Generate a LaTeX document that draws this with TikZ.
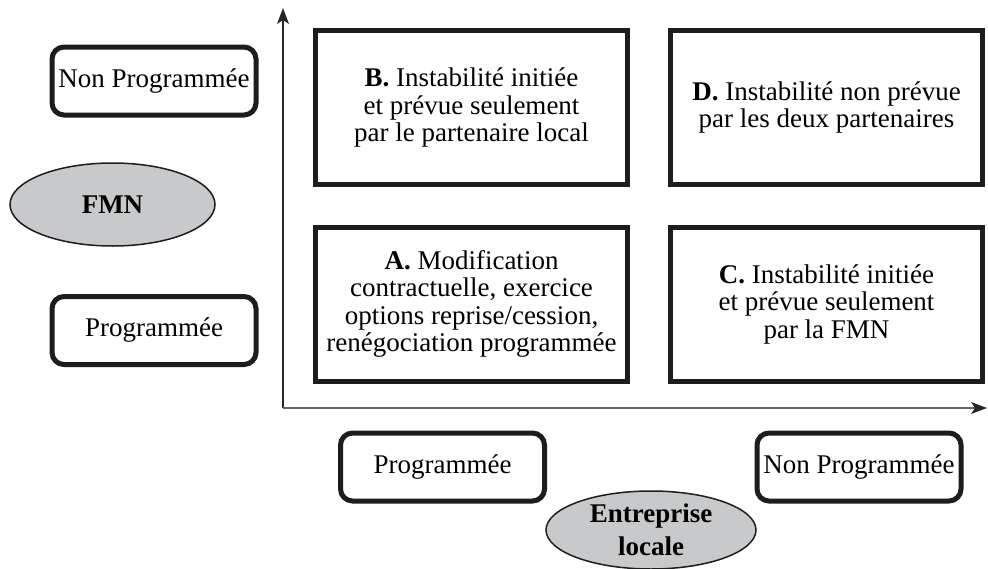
\documentclass[tikz,border=0pt]{standalone}
\usepackage{fontspec}
\setmainfont{Liberation Serif}
\usetikzlibrary{arrows.meta,shapes.geometric}
\definecolor{ovalgray}{RGB}{200,201,203}
\definecolor{boxline}{RGB}{30,28,28}
\begin{document}
\begin{tikzpicture}[x=1pt,y=-1pt,
  quad/.style={draw=boxline, line width=5pt, minimum width=312pt, minimum height=154pt,
    inner sep=0pt, align=center, font=\fontsize{27}{27.5}\selectfont},
  rbox/.style={draw=boxline, line width=5pt, rounded corners=12pt, minimum width=204pt,
    minimum height=68pt, inner sep=0pt, font=\fontsize{27}{27.5}\selectfont},
  oval/.style={ellipse, draw=boxline, line width=1.5pt, fill=ovalgray, inner sep=0pt,
    align=center, font=\bfseries\fontsize{27}{33}\selectfont},
  axis/.style={line width=1.5pt}
]
\useasboundingbox (0,0) rectangle (988,568);

% axes
\coordinate (O) at (283,408);
\coordinate (ytop) at (283,8);
\coordinate (xend) at (987,408);
\draw[axis, draw=black!85] (O) -- ([yshift=-10pt]ytop);
\fill[black!85] (ytop) -- ++(-6,16) -- ++(6,-4) -- ++(6,4) -- cycle;
\draw[axis, draw=black!60] (O) -- ([xshift=-10pt]xend);
\fill[black!85] (xend) -- ++(-16,-6) -- ++(4,6) -- ++(-4,6) -- cycle;

% quadrants
\node[quad] (B) at (471.5,107.5) {\textbf{B.} Instabilité initiée\\et prévue seulement\\par le partenaire local};
\node[quad] (D) at (826.5,107.5) {\textbf{D.} Instabilité non prévue\\par les deux partenaires};
\node[quad] (A) at (471.5,304) {\textbf{A.} Modification\\contractuelle, exercice\\options reprise/cession,\\renégociation programmée};
\node[quad] (C) at (826.5,304) {\textbf{C.} Instabilité initiée\\et prévue seulement\\par la FMN};

% vertical axis labels
\node[rbox] (ynp) at (154,81) {Non Programmée};
\node[oval, minimum width=205pt, minimum height=83pt] (fmn) at (112.5,204.5) {FMN};
\node[rbox] (yp) at (154,330.5) {Programmée};

% horizontal axis labels
\node[rbox] (xp) at (442.5,467) {Programmée};
\node[rbox] (xnp) at (859,467) {Non Programmée};
\node[oval, minimum width=210pt, minimum height=78pt] (ent) at (651,530) {Entreprise\\locale};
\end{tikzpicture}
\end{document}
